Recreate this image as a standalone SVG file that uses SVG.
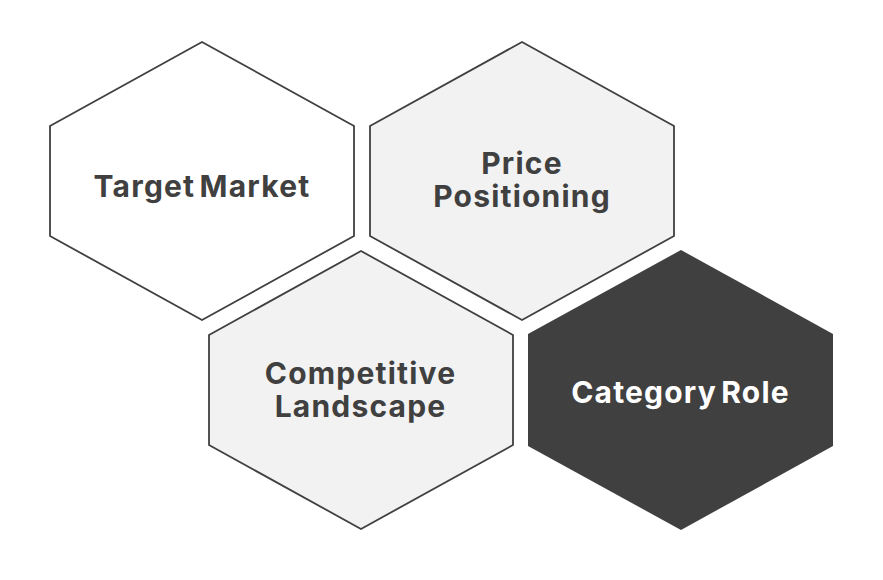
<svg xmlns="http://www.w3.org/2000/svg" width="883" height="580" viewBox="0 0 883 580">
<style>
.h{stroke:#404040;stroke-width:1.8;stroke-linejoin:miter}
.t{font-family:"Inter","Noto Sans","DejaVu Sans",sans-serif;font-weight:700;font-size:30px;letter-spacing:1.2px;word-spacing:-4px;text-anchor:middle;fill:#404040}
</style>
<rect width="883" height="580" fill="#fff"/>
<g id="target-market"><polygon class="h" fill="#fff" points="202,42 354,126 354,236 202,320 50,236 50,126"/><text class="t" x="202" y="197">Target Market</text></g>
<g id="price-positioning"><polygon class="h" fill="#f2f2f2" points="522,42 674,126 674,236 522,320 370,236 370,126"/><text class="t" x="522" y="174">Price</text><text class="t" x="522" y="207">Positioning</text></g>
<g id="competitive-landscape"><polygon class="h" fill="#f2f2f2" points="361,251 513,335 513,445 361,529 209,445 209,335"/><text class="t" x="360.500" y="384">Competitive</text><text class="t" x="360.500" y="417">Landscape</text></g>
<g id="category-role"><polygon fill="#404040" points="681,250 833,334 833,446 681,530 528,446 528,334"/><text class="t" x="680.500" y="403" style="fill:#fff">Category Role</text></g>
</svg>
